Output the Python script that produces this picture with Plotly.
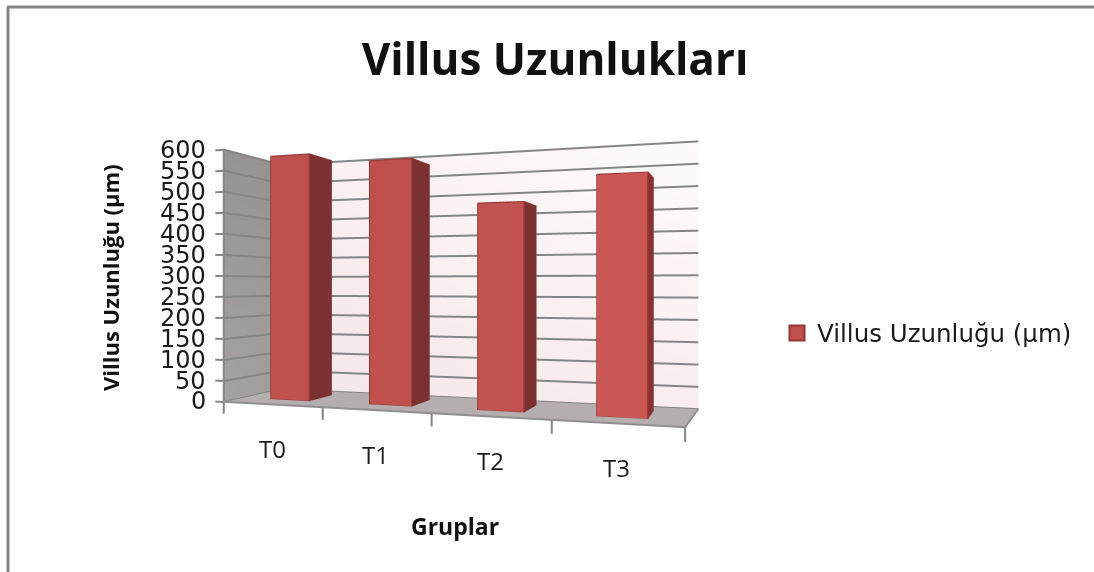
import math
import plotly.graph_objects as go

# ---- data ----
categories = ["T0", "T1", "T2", "T3"]
values = [592, 568, 460, 512]
z_ticks = [0, 50, 100, 150, 200, 250, 300, 350, 400, 450, 500, 550, 600]
series_name = "Villus Uzunluğu (µm)"
title_text = "Villus Uzunlukları"
y_title = "Villus Uzunluğu (µm)"
x_title = "Gruplar"

# ---- styling / geometry of the 3D box ----
front_colors = ["#C0504D", "#C0504D", "#C2524F", "#CA5754"]
side_colors = ["#7B3130", "#7B3130", "#7B3130", "#853231"]
top_color = "#A94745"
edge_color = "#953735"
grid_color = "#858585"
GAP_X = (0.30, 0.70)
GAP_Y = (0.31, 0.75)
WALL_END = 4.045

W, D, H = 1.80, 0.356, 1.0          # box proportions
X_RANGE = [-0.1, 4.05]
Y_RANGE = [0.0, 1.0]
Z_RANGE = [-30.0, 602.0]
aspect = dict(
    x=W * (X_RANGE[1] - X_RANGE[0]) / 4,
    y=D,
    z=H * (Z_RANGE[1] - Z_RANGE[0]) / 600,
)
mid = (
    W * (sum(X_RANGE) / 2) / 4,
    D * sum(Y_RANGE) / 2,
    H * (sum(Z_RANGE) / 2) / 600,
)
EYE_WORLD = (1.983, -2.282, 0.46)
theta = math.radians(15.9)
eye = [EYE_WORLD[i] - mid[i] for i in range(3)]
center = [eye[0] - 2.6 * math.sin(theta), eye[1] + 2.6 * math.cos(theta), eye[2]]

fig = go.Figure()

# walls and floor
def quad(xs, ys, zs, colors):
    fig.add_trace(go.Mesh3d(
        x=xs, y=ys, z=zs, i=[0, 0], j=[1, 2], k=[2, 3],
        vertexcolor=colors, flatshading=True, showlegend=False, hoverinfo="skip",
        lighting=dict(ambient=1, diffuse=0, specular=0, roughness=1, fresnel=0),
    ))

quad([0, WALL_END, WALL_END, 0], [1, 1, 1, 1], [0, 0, 600, 600],
     ["#F3E6E6", "#F9EDED", "#FFFBFB", "#F9EFEF"])
quad([0, 0, 0, 0], [0, 1, 1, 0], [0, 0, 600, 600],
     ["#A5A1A1", "#A09C9C", "#979292", "#989393"])
quad([0, 4, WALL_END, 0], [0, 0, 1, 1], [0, 0, 0, 0],
     ["#B5AEAE", "#B5AEAE", "#B5AEAE", "#B5AEAE"])

# gridlines with their tick stubs (lifted a hair off the walls)
def line(xs, ys, zs, color=grid_color, width=4):
    fig.add_trace(go.Scatter3d(
        x=xs, y=ys, z=zs, mode="lines", line=dict(color=color, width=width),
        showlegend=False, hoverinfo="skip",
    ))

for t in z_ticks:
    line([X_RANGE[0] + 0.01, 0.005, 0.005, WALL_END], [0, 0, 0.99, 0.99], [t, t, t, t])
line([0, 0], [0, 0], [0, 600])
line([0, 4, WALL_END], [0, 0, 1], [0.5, 0.5, 0.5], color="#8F8F8F")
for c in range(len(categories) + 1):
    line([c, c], [0, 0], [0, -28])

# bars
for n, v in enumerate(values):
    x0, x1 = n + GAP_X[0], n + GAP_X[1]
    y0, y1 = GAP_Y
    fig.add_trace(go.Mesh3d(
        x=[x0, x1, x1, x0, x0, x1, x1, x0],
        y=[y0, y0, y1, y1, y0, y0, y1, y1],
        z=[0, 0, 0, 0, v, v, v, v],
        i=[0, 0, 1, 1, 4, 4],
        j=[1, 5, 2, 6, 5, 6],
        k=[5, 4, 6, 5, 6, 7],
        facecolor=[front_colors[n]] * 2 + [side_colors[n]] * 2 + [top_color] * 2,
        flatshading=True, showlegend=False, hoverinfo="skip",
        lighting=dict(ambient=1, diffuse=0, specular=0, roughness=1, fresnel=0),
    ))
    line([x0, x1, x1, x0, x0], [y0] * 5, [0, 0, v, v, 0], color=edge_color, width=3)
    line([x1, x1, x0], [y1, y0, y0], [v, v, v], color=edge_color, width=3)

# legend entry
fig.add_trace(go.Scatter(
    x=[None], y=[None], mode="markers", name=series_name, showlegend=True,
    marker=dict(symbol="square", size=15, color="#C0504D",
                line=dict(color=edge_color, width=2)),
))

scene_annotations = []
for t in z_ticks:
    scene_annotations.append(dict(
        x=X_RANGE[0], y=0, z=t, text=str(t), showarrow=False, xanchor="right",
        xshift=-6, font=dict(family="DejaVu Sans", size=24, color="#1A1A1A"),
    ))
for n, c in enumerate(categories):
    scene_annotations.append(dict(
        x=n + 0.5, y=0, z=0, text=c, showarrow=False, yshift=-44,
        font=dict(family="Open Sans", size=24, color="#1A1A1A"),
    ))

axis = dict(visible=False, showgrid=False, zeroline=False, showspikes=False,
            showbackground=False, showticklabels=False)

fig.update_layout(
    width=1094, height=572, margin=dict(l=0, r=0, t=0, b=0, pad=0),
    paper_bgcolor="white", plot_bgcolor="white", hovermode=False,
    title=dict(text=f"<b>{title_text}</b>", x=555 / 1094, xanchor="center",
               y=1 - 60 / 572, yanchor="middle",
               font=dict(family="Open Sans", size=44, color="#111111")),
    xaxis=dict(visible=False), yaxis=dict(visible=False),
    scene=dict(
        domain=dict(x=[0, 1], y=[0, 1]),
        xaxis=dict(range=X_RANGE, **axis),
        yaxis=dict(range=Y_RANGE, **axis),
        zaxis=dict(range=Z_RANGE, **axis),
        aspectmode="manual", aspectratio=aspect,
        camera=dict(
            eye=dict(x=eye[0], y=eye[1], z=eye[2]),
            center=dict(x=center[0], y=center[1], z=center[2]),
            up=dict(x=0, y=0, z=1),
            projection=dict(type="perspective"),
        ),
        annotations=scene_annotations,
    ),
    showlegend=True,
    legend=dict(x=777 / 1094, y=1 - 333 / 572, xanchor="left", yanchor="middle",
                bgcolor="rgba(0,0,0,0)", itemsizing="trace",
                font=dict(family="DejaVu Sans", size=24.5, color="#1A1A1A")),
    annotations=[
        dict(xref="paper", yref="paper", x=110 / 1094, y=1 - 278 / 572,
             xanchor="center", yanchor="middle",
             text=f"<b>{y_title}</b>", textangle=-90, showarrow=False,
             font=dict(family="Open Sans", size=22, color="#111111")),
        dict(xref="paper", yref="paper", x=455 / 1094, y=1 - 526 / 572,
             xanchor="center", yanchor="middle",
             text=f"<b>{x_title}</b>", showarrow=False,
             font=dict(family="Open Sans", size=23, color="#111111")),
    ],
    shapes=[
        dict(type="line", xref="paper", yref="paper", x0=7 / 1094, x1=1,
             y0=1 - 7 / 572, y1=1 - 7 / 572, line=dict(color="#868686", width=3)),
        dict(type="line", xref="paper", yref="paper", x0=8 / 1094, x1=8 / 1094,
             y0=0, y1=1 - 7 / 572, line=dict(color="#868686", width=3)),
    ],
)

fig.write_html("out.html", post_script="document.body.style.margin='0';",
               config=dict(displayModeBar=False))
